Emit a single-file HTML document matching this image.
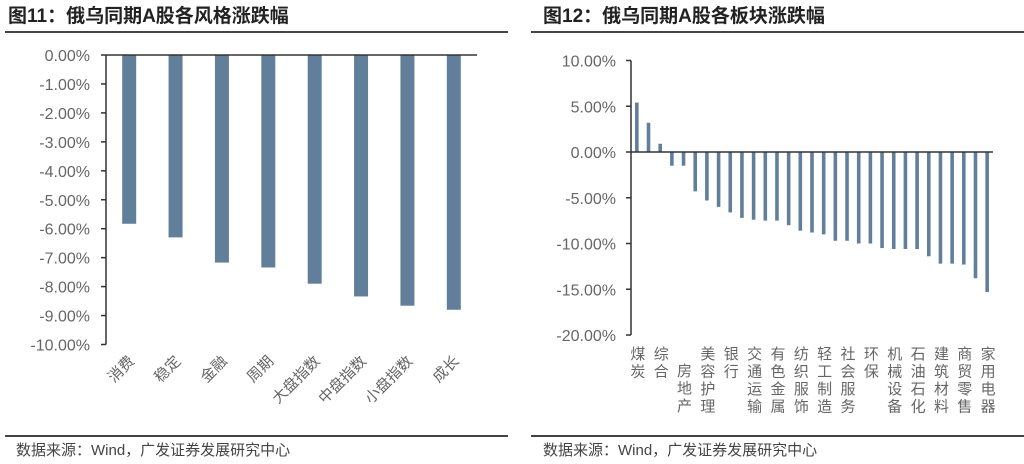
<!DOCTYPE html>
<html><head><meta charset="utf-8"><style>
body{margin:0;background:#fff;width:1024px;height:464px;overflow:hidden;font-family:"Liberation Sans","Noto Sans CJK SC",sans-serif}
svg{display:block}
</style></head><body>
<svg id="s" width="1024" height="464" xmlns="http://www.w3.org/2000/svg">
<text x="8" y="22" font-size="19" font-weight="bold" fill="#222" font-family="Liberation Sans,Noto Sans CJK SC,sans-serif">图11：俄乌同期A股各风格涨跌幅</text>
<text x="543" y="22" font-size="19" font-weight="bold" fill="#222" font-family="Liberation Sans,Noto Sans CJK SC,sans-serif">图12：俄乌同期A股各板块涨跌幅</text>
<line x1="5" y1="32" x2="508" y2="32" stroke="#444" stroke-width="2"/>
<line x1="531" y1="32" x2="1024" y2="32" stroke="#444" stroke-width="2"/>
<line x1="5" y1="436" x2="508" y2="436" stroke="#444" stroke-width="2"/>
<line x1="531" y1="436" x2="1024" y2="436" stroke="#444" stroke-width="2"/>
<text x="16" y="455" font-size="15" fill="#444">数据来源：Wind，广发证券发展研究中心</text>
<text x="543" y="455" font-size="15" fill="#444">数据来源：Wind，广发证券发展研究中心</text>
<g id="L"></g>
<g id="R"></g>
</svg>
<script>
const leftCats=["消费","稳定","金融","周期","大盘指数","中盘指数","小盘指数","成长"];
const leftVals=[-5.83,-6.3,-7.17,-7.34,-7.9,-8.34,-8.66,-8.8];
const leftTicks=[0,-1,-2,-3,-4,-5,-6,-7,-8,-9,-10];
const rightCats=["煤炭","","综合","","房地产","","美容护理","","银行","","交通运输","","有色金属","","纺织服饰","","轻工制造","","社会服务","","环保","","机械设备","","石油石化","","建筑材料","","商贸零售","","家用电器"];
const rightVals=[5.4,3.2,0.9,-1.5,-1.5,-4.3,-5.3,-6.0,-6.6,-7.2,-7.4,-7.5,-7.5,-8.0,-8.6,-8.8,-9.0,-9.7,-9.7,-10.0,-10.0,-10.5,-10.6,-10.6,-10.6,-11.4,-12.2,-12.2,-12.3,-13.8,-15.3];
const rightTicks=[10,5,0,-5,-10,-15,-20];
const NS="http://www.w3.org/2000/svg";
function mk(p,t,a,txt){const e=document.createElementNS(NS,t);for(const k in a)e.setAttribute(k,a[k]);if(txt!==undefined)e.textContent=txt;p.appendChild(e);return e;}
const C="#617f9b";
(function(){
 const g=document.getElementById('L');
 const x0=106,x1=477,y=v=>55+(-v)*28.95;
 const band=(x1-x0)/leftCats.length;
 const ax=mk(g,'line',{x1:x0,y1:y(0),x2:x0,y2:y(-10),stroke:'#333','stroke-width':1.5});
 
 
 leftTicks.forEach(t=>{
  const tk=mk(g,'line',{x1:x0-5,y1:y(t),x2:x0,y2:y(t),stroke:'#333','stroke-width':1.5});
  
  
  const tl=mk(g,'text',{x:90,y:y(t)+6,'text-anchor':'end','font-size':16,fill:'#666'},t.toFixed(2)+'%');
  
  
 });
 leftVals.forEach((v,i)=>{
  const cx=x0+band*(i+0.5);
  const r=mk(g,'rect',{x:cx-7,y:y(0),width:14,height:y(v)-y(0),fill:C});
  
  
  const t=mk(g,'text',{x:0,y:0,'text-anchor':'end','font-size':15,fill:'#666',transform:`translate(${cx+6},${362}) rotate(-45)`},leftCats[i]);
  
  
 });
 const z=mk(g,'line',{x1:x0,y1:y(0),x2:x1,y2:y(0),stroke:'#333','stroke-width':1.5});
 
 
})();
(function(){
 const g=document.getElementById('R');
 const x0=631,x1=993,y=v=>152-v*9.15;
 const band=(x1-x0)/rightVals.length;
 const ax=mk(g,'line',{x1:x0,y1:y(10),x2:x0,y2:y(-20),stroke:'#333','stroke-width':1.5});
 
 
 rightTicks.forEach(t=>{
  const tk=mk(g,'line',{x1:x0-5,y1:y(t),x2:x0,y2:y(t),stroke:'#333','stroke-width':1.5});
  
  
  const tl=mk(g,'text',{x:616,y:y(t)+6,'text-anchor':'end','font-size':16,fill:'#666'},t.toFixed(2)+'%');
  
  
 });
 rightVals.forEach((v,i)=>{
  const cx=x0+band*(i+0.5);
  const top=Math.min(y(v),y(0)),h=Math.abs(y(v)-y(0));
  const r=mk(g,'rect',{x:cx-1.8,y:top,width:3.6,height:h,fill:C});
  
  
  if(rightCats[i]){
   const off=rightCats[i]==="房地产"?17:0;
   const t=mk(g,'text',{x:cx,y:346+off,'font-size':15,fill:'#666','writing-mode':'tb','glyph-orientation-vertical':'0','letter-spacing':'2.5'},rightCats[i]);
   
   
  }
 });
 const z=mk(g,'line',{x1:x0,y1:y(0),x2:x1,y2:y(0),stroke:'#333','stroke-width':1.5});
 
 
})();
</script>
</body></html>
